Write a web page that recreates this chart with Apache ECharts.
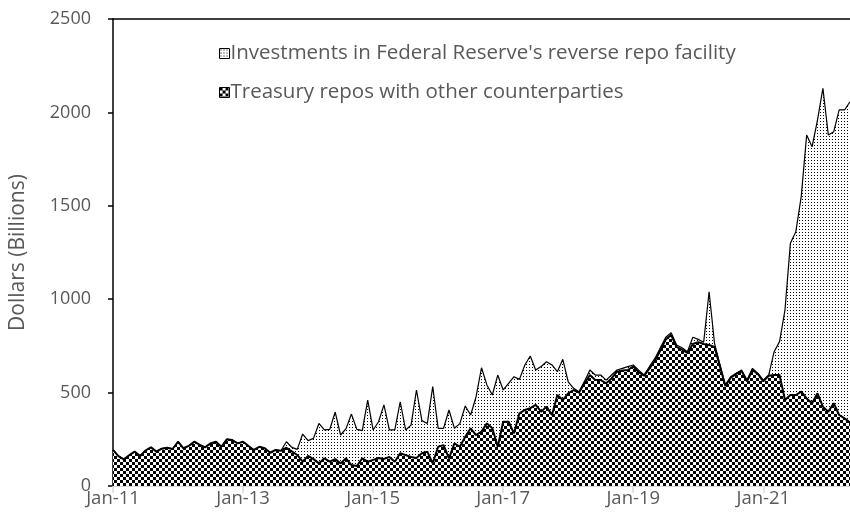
<!DOCTYPE html>
<html>
<head>
<meta charset="utf-8">
<script src="https://cdn.jsdelivr.net/npm/echarts@6/dist/echarts.min.js"></script>
<style>
html,body{margin:0;padding:0;background:#fff;}
#chart{width:850px;height:529px;}
</style>
</head>
<body>
<div id="chart"></div>
<script>
// ---- Data (Billions of dollars), monthly Jan-2011 .. May-2022 ----
const startYear = 2011, startMonth = 0, monthCount = 137;
const monthNames = ['Jan','Feb','Mar','Apr','May','Jun','Jul','Aug','Sep','Oct','Nov','Dec'];
const categories = [];
for (let k = 0; k < monthCount; k++) {
  const m = (startMonth + k) % 12, y = startYear + Math.floor((startMonth + k) / 12);
  categories.push(monthNames[m] + '-' + String(y).slice(2));
}

const treasuryRepos = [
  193,160,143,165,184,161,190,207,184,200,205,198,
  237,202,215,237,220,207,228,237,210,250,246,228,
  237,214,193,210,202,178,193,188,205,185,166,130,
  161,144,121,148,130,144,121,148,112,107,148,130,
  140,150,145,155,130,175,165,155,150,175,184,121,
  210,219,148,228,210,264,309,273,291,335,309,210,
  344,344,282,389,407,417,434,398,425,380,487,460,
  496,514,500,550,594,567,567,550,576,612,618,621,
  640,610,590,630,670,725,785,808,745,730,712,760,
  770,760,755,745,640,535,580,600,615,560,620,600,
  560,590,594,594,460,487,487,505,469,443,496,425,
  398,443,380,362,340
];

const rrpInvestments = [
  0,0,0,0,0,0,0,0,0,0,0,0,
  0,0,0,0,0,0,0,0,0,0,0,0,
  0,0,0,0,0,0,0,2,32,22,30,148,
  82,111,214,152,173,252,152,159,273,196,148,330,
  160,194,289,145,170,276,135,171,364,175,151,411,
  99,90,259,81,124,164,71,205,342,206,178,384,
  170,206,303,182,241,279,187,242,240,268,125,218,
  62,9,5,10,27,27,27,17,18,9,12,18,
  8,10,4,10,13,15,11,13,10,10,7,36,
  15,10,285,19,10,6,5,3,6,7,10,3,
  7,4,125,179,482,812,874,1044,1410,1373,1463,1704,
  1481,1454,1633,1651,1717
];

const yTicks = { min: 0, max: 2500, interval: 500 };
const seriesNames = [
  "Investments in Federal Reserve's reverse repo facility",
  "Treasury repos with other counterparties"
];

// ---- Patterns ----
function checkerPattern() {
  const c = document.createElement('canvas');
  c.width = 6; c.height = 6;
  const g = c.getContext('2d');
  g.fillStyle = '#ffffff'; g.fillRect(0,0,6,6);
  g.fillStyle = '#000000';
  g.fillRect(0,0,3,3); g.fillRect(3,3,3,3);
  return { image: c, repeat: 'repeat' };
}
function dotPattern() {
  const c = document.createElement('canvas');
  c.width = 3; c.height = 3;
  const g = c.getContext('2d');
  g.fillStyle = '#ffffff'; g.fillRect(0,0,3,3);
  g.fillStyle = '#000000';
  g.fillRect(1,1,1,1);
  return { image: c, repeat: 'repeat' };
}
const checker = checkerPattern();
const dots = dotPattern();

const FONT = 'Open Sans';
const TXT = '#595959';

const chart = echarts.init(document.getElementById('chart'), null, { renderer: 'canvas' });
chart.setOption({
  animation: false,
  backgroundColor: '#ffffff',
  grid: { left: 113, right: 0, top: 19, bottom: 43, containLabel: false },
  legend: {
    orient: 'vertical',
    left: 214, top: 38,
    itemWidth: 10, itemHeight: 10, itemGap: 18,
    icon: 'rect',
    textStyle: { fontFamily: FONT, fontSize: 20.5, color: TXT, padding: [0,0,0,-4] },
    data: [
      { name: seriesNames[0], itemStyle: { color: dots, borderColor: '#000', borderWidth: 1 } },
      { name: seriesNames[1], itemStyle: { color: checker, borderColor: '#000', borderWidth: 1 } }
    ]
  },
  xAxis: [{
    type: 'category',
    data: categories,
    boundaryGap: false,
    axisLine: { show: true, lineStyle: { color: '#d9d9d9', width: 1 } },
    axisTick: { show: true, interval: 23, length: 7, lineStyle: { color: '#d9d9d9', width: 1.5 } },
    axisLabel: { interval: 23, fontFamily: FONT, fontSize: 18.5, color: TXT, margin: 3 },
    splitLine: { show: false }
  }, {
    type: 'category',
    position: 'top',
    data: categories,
    boundaryGap: false,
    axisLine: { show: true, lineStyle: { color: '#000', width: 1.5 } },
    axisTick: { show: false },
    axisLabel: { show: false },
    splitLine: { show: false }
  }],
  yAxis: {
    type: 'value',
    min: yTicks.min, max: yTicks.max, interval: yTicks.interval,
    name: 'Dollars (Billions)',
    nameLocation: 'middle',
    nameGap: 84,
    nameTextStyle: { fontFamily: FONT, fontSize: 21, color: TXT },
    axisLine: { show: true, lineStyle: { color: '#000', width: 1.5 } },
    axisTick: { show: true, length: 5, lineStyle: { color: '#000', width: 1.5 } },
    axisLabel: { fontFamily: FONT, fontSize: 18, color: TXT, margin: 22, formatter: v => String(v) },
    splitLine: { show: false }
  },
  series: [
    {
      name: seriesNames[1],
      type: 'line',
      stack: 'total',
      data: treasuryRepos,
      showSymbol: false,
      symbol: 'none',
      lineStyle: { color: '#000', width: 2 },
      itemStyle: { color: checker },
      areaStyle: { color: checker, opacity: 1 },
      z: 3
    },
    {
      name: seriesNames[0],
      type: 'line',
      stack: 'total',
      data: rrpInvestments,
      showSymbol: false,
      symbol: 'none',
      lineStyle: { color: '#000', width: 1.2 },
      itemStyle: { color: dots },
      areaStyle: { color: dots, opacity: 1 },
      z: 2
    }
  ]
});
</script>
</body>
</html>
